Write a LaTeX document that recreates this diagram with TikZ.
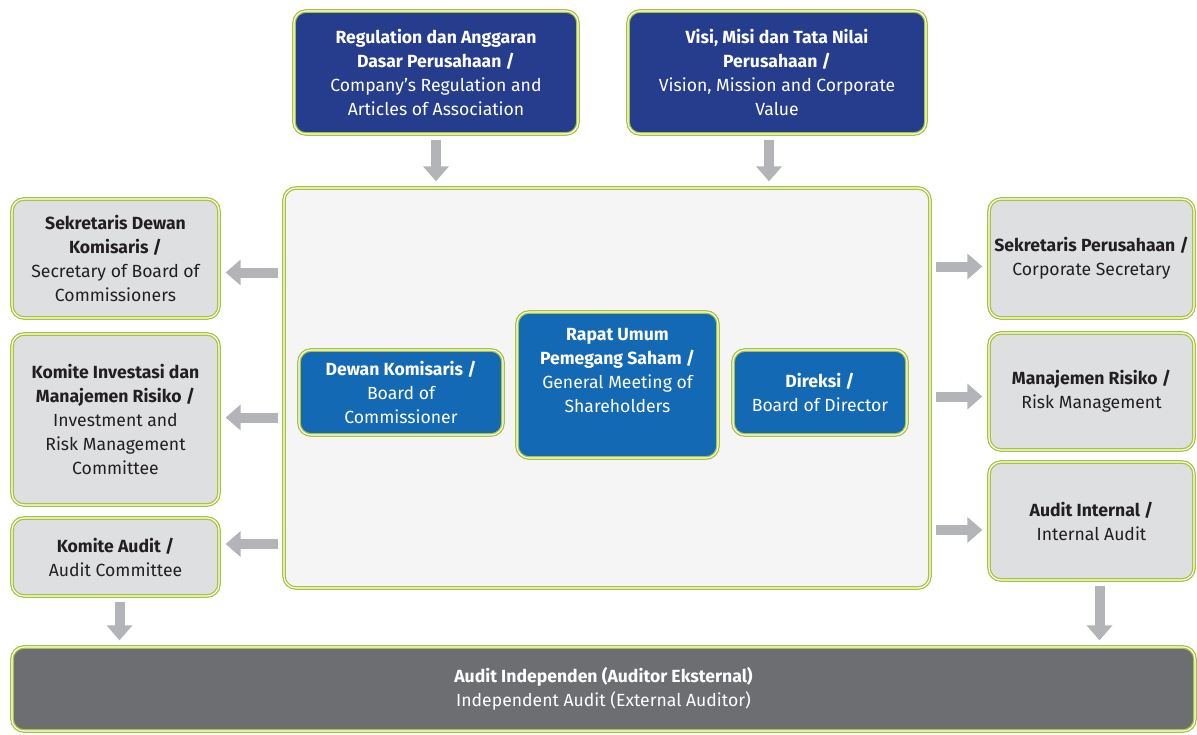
\documentclass[tikz,border=0pt]{standalone}
\usepackage{fontspec}
\setmainfont{Fira Sans}
\usetikzlibrary{arrows.meta,positioning,calc}

\definecolor{navyblue}{RGB}{37,61,140}
\definecolor{midblue}{RGB}{20,105,180}
\definecolor{boxgray}{RGB}{222,223,225}
\definecolor{panelgray}{RGB}{245,245,245}
\definecolor{limegreen}{RGB}{170,196,58}
\definecolor{arrgray}{RGB}{179,180,183}
\definecolor{darkpanel}{RGB}{109,110,114}
\definecolor{darktext}{RGB}{35,31,32}

\begin{document}
\begin{tikzpicture}[
    x=1pt, y=-1pt,
    gborder/.style={draw=limegreen, double=white, double distance=1.1pt, line width=1.3pt,
                    rounded corners=12pt},
    topbox/.style={gborder, fill=navyblue, text=white, align=center,
                   font=\fontsize{17.6}{24}\selectfont, minimum height=123pt},
    sidebox/.style={gborder, fill=boxgray, text=darktext, align=center,
                    font=\fontsize{17.6}{24}\selectfont, minimum width=207pt},
    bluebox/.style={gborder, fill=midblue, text=white, align=center,
                    font=\fontsize{17.6}{24}\selectfont},
    arr/.style={line width=10pt, draw=arrgray, -{Triangle[width=25pt,length=15pt]},
                shorten <=5pt, shorten >=6pt},
]
\useasboundingbox (0,0) rectangle (1197,734);

% Top row
\node[topbox, minimum width=284pt] (reg) at (436,72.5) {\textbf{Regulation dan Anggaran}\\ \textbf{Dasar Perusahaan /}\\ Company’s Regulation and\\ Articles of Association};
\node[topbox, minimum width=298pt] (visi) at (777,72.5) {\textbf{Visi, Misi dan Tata Nilai}\\ \textbf{Perusahaan /}\\ Vision, Mission and Corporate\\ Value};

% Central panel
\node[gborder, fill=panelgray, minimum width=646pt, minimum height=400pt] (panel) at (607,388) {};
\node[bluebox, minimum width=204pt, minimum height=85pt] (dewan) at (401,392.5) {\textbf{Dewan Komisaris /}\\ Board of\\ Commissioner};
\node[bluebox, minimum width=201pt, minimum height=146pt] (rups) at (617.5,385) {\textbf{Rapat Umum}\\ \textbf{Pemegang Saham /}\\ General Meeting of\\ Shareholders\\[6pt]\mbox{}};
\node[bluebox, minimum width=174pt, minimum height=85pt] (direksi) at (820,392.5) {\textbf{Direksi /}\\ Board of Director};

% Left column
\node[sidebox, minimum height=119pt] (sekdekom) at (115.5,258.5) {\textbf{Sekretaris Dewan}\\ \textbf{Komisaris /}\\ Secretary of Board of\\ Commissioners};
\node[sidebox, minimum height=171pt] (kimr) at (115.5,419.5) {\textbf{Komite Investasi dan}\\ \textbf{Manajemen Risiko /}\\ Investment and\\ Risk Management\\ Committee};
\node[sidebox, minimum height=78pt] (komaudit) at (115.5,557) {\textbf{Komite Audit /}\\ Audit Committee};

% Right column
\node[sidebox, minimum width=205pt, minimum height=119pt] (sekper) at (1091.5,258.5) {\textbf{Sekretaris Perusahaan /}\\ Corporate Secretary};
\node[sidebox, minimum width=205pt, minimum height=117pt] (manrisk) at (1091.5,391.5) {\textbf{Manajemen Risiko /}\\ Risk Management};
\node[sidebox, minimum width=205pt, minimum height=118pt] (intaudit) at (1091.5,521) {\textbf{Audit Internal /}\\ Internal Audit};

% Bottom
\node[gborder, fill=darkpanel, text=white, align=center, font=\fontsize{17.6}{24}\selectfont,
      minimum width=1183pt, minimum height=84pt] (extaudit) at (603.5,689) {\textbf{Audit Independen (Auditor Eksternal)}\\ Independent Audit (External Auditor)};

% Arrows
\draw[arr] (reg.south) -- (reg.south |- panel.north);
\draw[arr] ([xshift=-8pt]visi.south) -- ([xshift=-8pt]visi.south |- panel.north);
\draw[arr] ([yshift=-14pt]sekdekom.east -| panel.west) -- ([yshift=-14pt]sekdekom.east);
\draw[arr] ([yshift=2pt]kimr.east -| panel.west) -- ([yshift=2pt]kimr.east);
\draw[arr] ([yshift=13pt]komaudit.east -| panel.west) -- ([yshift=13pt]komaudit.east);
\draw[arr] ([yshift=-8pt]panel.east |- sekper.west) -- ([yshift=-8pt]sekper.west);
\draw[arr] ([yshift=-5pt]panel.east |- manrisk.west) -- ([yshift=-5pt]manrisk.west);
\draw[arr] ([yshift=-9pt]panel.east |- intaudit.west) -- ([yshift=-9pt]intaudit.west);
\draw[arr] ([xshift=4pt]komaudit.south) -- ([xshift=4pt]komaudit.south |- extaudit.north);
\draw[arr] ([xshift=8pt]intaudit.south) -- ([xshift=8pt]intaudit.south |- extaudit.north);
\end{tikzpicture}
\end{document}
